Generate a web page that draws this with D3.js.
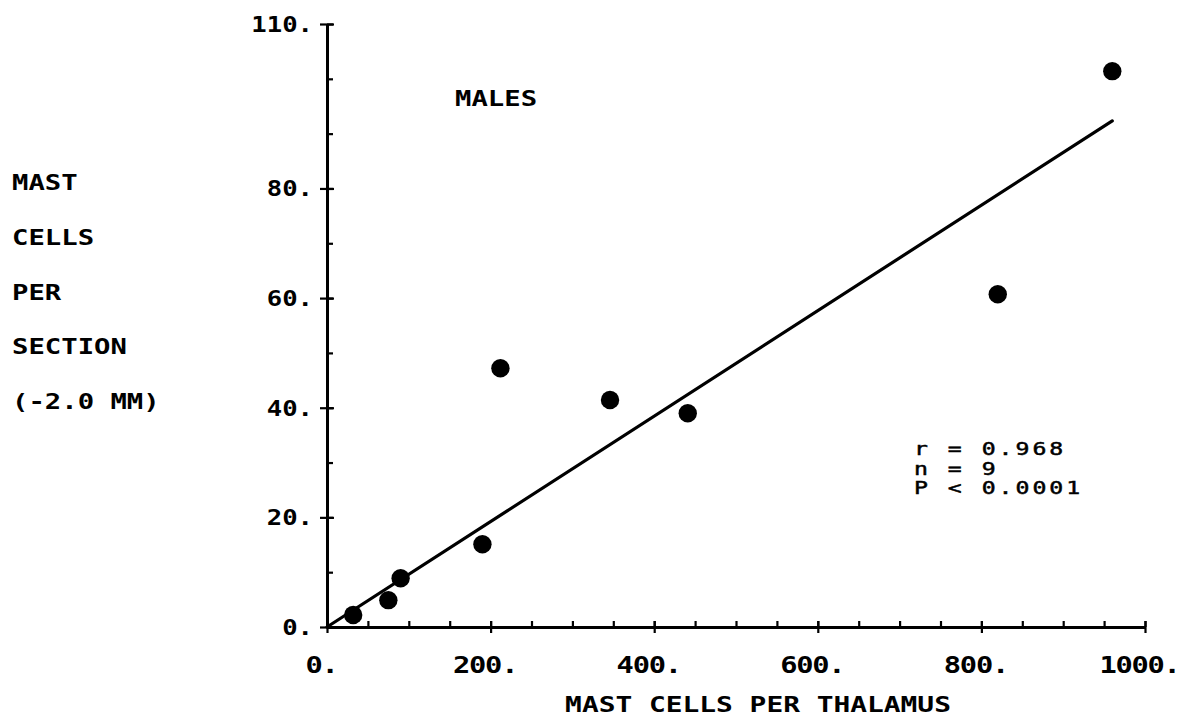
<!DOCTYPE html>
<html>
<head>
<meta charset="utf-8">
<script src="https://cdn.jsdelivr.net/npm/d3@7"></script>
<style>
  html, body { margin: 0; padding: 0; background: #fff; }
  svg { display: block; }
  text { font-family: "DejaVu Sans Mono", "Liberation Mono", monospace; fill: #000; }
</style>
</head>
<body>
<svg id="chart" width="1180" height="719"></svg>
<script>
// Mast cell counts: whole thalamus vs. per section, males
const mastPerThalamus = [32, 75, 90, 190, 212, 346, 441, 820, 960];
const mastPerSection  = [2.2, 4.9, 8.9, 15.1, 47.2, 41.4, 39.0, 60.7, 101.4];

const xTickValues = [0, 200, 400, 600, 800, 1000];
const xMinorValues = d3.range(0, 1001, 50);
const yTickValues = [0, 20, 40, 60, 80, 110];
const yMinorValues = d3.range(0, 111, 10);

const yTitleLines = ["MAST", "CELLS", "PER", "SECTION", "(-2.0 MM)"];
const statLines = ["r = 0.968", "n = 9", "P < 0.0001"];

const svg = d3.select("#chart");
const W = 1180, H = 719;
svg.append("rect").attr("width", W).attr("height", H).attr("fill", "#fff");

const x = d3.scaleLinear().domain([0, 1000]).range([327, 1145]);
const y = d3.scaleLinear().domain([0, 110]).range([627, 24]);

const ink = "#000";

// plotter-style lettering: wide monospace glyphs, stretched horizontally
function place(sel, tx, ty, sx) {
  return sel.attr("x", 0).attr("y", 0).attr("dx", null).attr("dy", null)
    .attr("transform", `translate(${tx},${ty}) scale(${sx},1)`);
}

// minor ticks: x upward, y to the right
const gxMinor = svg.append("g").attr("transform", `translate(0,${y(0)})`)
  .call(d3.axisTop(x).tickValues(xMinorValues).tickSize(6).tickSizeOuter(0).tickFormat(""));
const gyMinor = svg.append("g").attr("transform", `translate(${x(0)},0)`)
  .call(d3.axisRight(y).tickValues(yMinorValues).tickSize(6).tickSizeOuter(0).tickFormat(""));

// major ticks cross the axis, with labels
const gxMajor = svg.append("g").attr("transform", `translate(0,${y(0)})`)
  .call(d3.axisBottom(x).tickValues(xTickValues).tickSize(6).tickSizeOuter(0).tickFormat(d => d + "."));
const gyMajor = svg.append("g").attr("transform", `translate(${x(0)},0)`)
  .call(d3.axisLeft(y).tickValues(yTickValues).tickSize(7).tickSizeOuter(0).tickFormat(d => d + "."));

[gxMinor, gyMinor, gxMajor, gyMajor].forEach(g => {
  g.attr("font-family", null).attr("font-size", null);
  g.selectAll(".tick line").attr("stroke", ink).attr("stroke-width", 2.2);
  g.selectAll(".domain").attr("stroke", ink).attr("stroke-width", 3);
});

gxMajor.selectAll(".tick text")
  .attr("font-size", 23).attr("font-weight", "bold")
  .attr("letter-spacing", -1)
  .attr("text-anchor", "middle")
  .call(place, -6, 46, 1.25);

gyMajor.selectAll(".tick text")
  .attr("font-size", 20.5).attr("font-weight", "bold")
  .attr("text-anchor", "end")
  .call(place, -14, 7.5, 1.25);

// extend the major ticks above/right of the axis
gxMajor.selectAll(".tick").append("line")
  .attr("y1", 0).attr("y2", -6).attr("stroke", ink).attr("stroke-width", 2.2);
gyMajor.selectAll(".tick").append("line")
  .attr("x1", 0).attr("x2", 7).attr("stroke", ink).attr("stroke-width", 2.2);

// regression line through the origin
const sxy = d3.sum(mastPerThalamus, (d, i) => d * mastPerSection[i]);
const sxx = d3.sum(mastPerThalamus, d => d * d);
const slope = sxy / sxx;
const xMax = d3.max(mastPerThalamus);
svg.append("line")
  .attr("x1", x(0)).attr("y1", y(0))
  .attr("x2", x(xMax)).attr("y2", y(slope * xMax))
  .attr("stroke", ink).attr("stroke-width", 3.2).attr("stroke-linecap", "round");

// data points
svg.append("g").selectAll("circle")
  .data(mastPerThalamus.map((d, i) => [d, mastPerSection[i]]))
  .join("circle")
  .attr("cx", d => x(d[0])).attr("cy", d => y(d[1]))
  .attr("r", 9.2).attr("fill", ink);

// axis titles
svg.append("text")
  .attr("text-anchor", "middle")
  .attr("font-size", 20.5).attr("font-weight", "bold")
  .text("MAST CELLS PER THALAMUS")
  .call(place, 758, 712, 1.36);

svg.append("g").selectAll("text")
  .data(yTitleLines)
  .join("text")
  .attr("font-size", 20.5).attr("font-weight", "bold")
  .attr("xml:space", "preserve")
  .text(d => d)
  .each(function (d, i) { d3.select(this).call(place, 12, 190 + i * 54.8, 1.33); });

svg.append("text")
  .attr("font-size", 20.5).attr("font-weight", "bold")
  .text("MALES")
  .call(place, 455, 106, 1.33);

// fit statistics
svg.append("g").selectAll("text")
  .data(statLines)
  .join("text")
  .attr("font-size", 18.5)
  .attr("letter-spacing", 2.4)
  .attr("stroke", ink).attr("stroke-width", 0.5)
  .attr("xml:space", "preserve")
  .text(d => d)
  .each(function (d, i) { d3.select(this).call(place, 914, 455 + i * 19.5, 1.25); });
</script>
</body>
</html>
